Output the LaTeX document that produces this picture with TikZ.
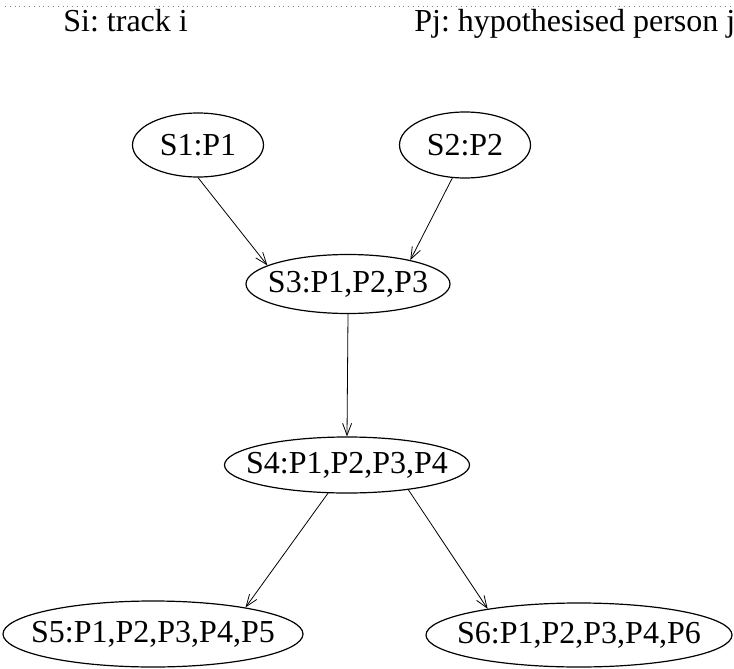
\documentclass[tikz,border=0pt]{standalone}
\usepackage{fontspec}
\setmainfont{Liberation Serif}
\frenchspacing
\usetikzlibrary{shapes.geometric,arrows.meta}
\begin{document}
\begin{tikzpicture}[x=0.5pt,y=-0.5pt,
  track/.style={ellipse,draw,line width=0.6pt,inner ysep=0pt,inner xsep=-10pt,font=\fontsize{16}{19}\selectfont},
  key/.style={anchor=base west,inner sep=0pt,font=\fontsize{16}{19}\selectfont},
  link/.style={-{Straight Barb[length=6pt,width=4.5pt]},line width=0.4pt}]
\useasboundingbox (0,0) rectangle (734,669);
\draw[dotted,gray,line width=0.4pt] (5,6) -- (734,6);
\node[key] (keyS) at (63,32) {Si: track i};
\node[key] (keyP) at (414,32) {Pj: hypothesised person j};
\node[track,minimum width=65.5pt,minimum height=32pt] (s1) at (198,145) {S1:P1};
\node[track,minimum width=65.5pt,minimum height=33pt] (s2) at (465,145) {S2:P2};
\node[track,minimum width=102pt,minimum height=29.5pt] (s3) at (348,284) {S3:P1,P2,P3};
\node[track,minimum width=122.5pt,minimum height=28pt] (s4) at (347,465) {S4:P1,P2,P3,P4};
\node[track,minimum width=150pt,minimum height=33pt] (s5) at (153,634) {S5:P1,P2,P3,P4,P5};
\node[track,minimum width=153pt,minimum height=32pt] (s6) at (579,635) {S6:P1,P2,P3,P4,P6};
\draw[link] (s1.south) -- (s3.167);
\draw[link] (s2.249) -- (s3.21);
\draw[link] (s3.south) -- (s4.north);
\draw[link] (s4.236) -- (s5.16);
\draw[link] (s4.338) -- (s6.164);
\end{tikzpicture}
\end{document}
